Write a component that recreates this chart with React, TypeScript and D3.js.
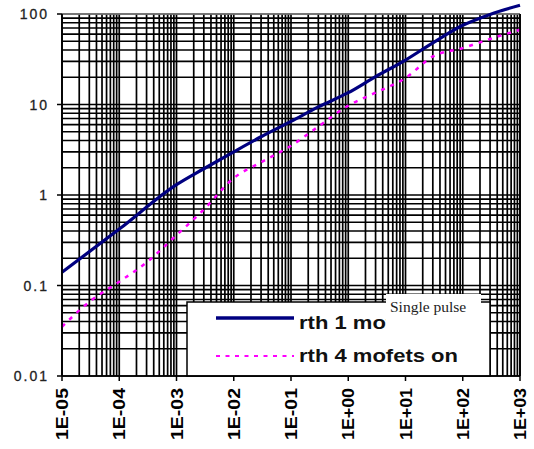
import React from "react";
import * as d3 from "d3";

const xTickLabels = ["1E-05", "1E-04", "1E-03", "1E-02", "1E-01", "1E+00", "1E+01", "1E+02", "1E+03"];
const xTickValues = [1e-5, 1e-4, 1e-3, 1e-2, 1e-1, 1, 10, 100, 1000];
const yTickLabels = ["0.01", "0.1", "1", "10", "100"];
const yTickValues = [0.01, 0.1, 1, 10, 100];

const timeOne = [1e-5, 1e-4, 1e-3, 3e-3, 1e-2, 3e-2, 1e-1, 3e-1, 1, 3, 10, 30, 100, 300, 1000];
const rthOne = [0.14, 0.42, 1.3, 1.95, 3.0, 4.4, 6.5, 9.4, 13.5, 20.3, 31, 48, 75, 99, 125];

const timeFour = [1e-5, 3e-5, 1e-4, 3e-4, 1e-3, 3e-3, 1e-2, 3e-2, 1e-1, 3e-1, 1, 3, 10, 30, 100, 300, 1000];
const rthFour = [0.035, 0.066, 0.11, 0.18, 0.36, 0.69, 1.54, 2.3, 3.5, 5.7, 9.7, 13.5, 19.6, 34, 42, 53, 67];

const seriesNames = ["rth 1 mofets on", "rth 4 mofets on"];
const annotation = "Single pulse";

export default function App() {
  const left = 62, right = 520, top = 14, bottom = 376;
  const x = d3.scaleLog().domain([1e-5, 1e3]).range([left, right]);
  const y = d3.scaleLog().domain([0.01, 100]).range([bottom, top]);

  const gridX: number[] = [];
  for (let e = -5; e < 3; e++) for (let m = 1; m <= 9; m++) gridX.push(m * Math.pow(10, e));
  gridX.push(1000);
  const gridY: number[] = [];
  for (let e = -2; e < 2; e++) for (let m = 1; m <= 9; m++) gridY.push(m * Math.pow(10, e));
  gridY.push(100);

  const line = d3
    .line<[number, number]>()
    .x((d) => x(d[0]))
    .y((d) => y(d[1]))
    .curve(d3.curveMonotoneX);

  const p1 = line(timeOne.map((t, i) => [t, rthOne[i]]) as [number, number][]) || "";
  const p4 = line(timeFour.map((t, i) => [t, rthFour[i]]) as [number, number][]) || "";

  const sans = "'Liberation Sans', Arial, sans-serif";

  return (
    <svg
      width={534}
      height={449}
      style={{ position: "absolute", left: 0, top: 0, background: "#fff" }}
    >
      <rect x={0} y={0} width={534} height={449} fill="#fff" />
      <g stroke="#000" strokeWidth={1.7}>
        {gridX.map((v, i) => (
          <line key={"gx" + i} x1={x(v)} x2={x(v)} y1={top} y2={bottom} />
        ))}
        {gridY.map((v, i) => (
          <line key={"gy" + i} x1={left} x2={right} y1={y(v)} y2={y(v)} />
        ))}
      </g>
      <line x1={left} x2={right} y1={top} y2={top} stroke="#888" strokeWidth={1.5} />
      <g stroke="#000" strokeWidth={1.5}>
        {yTickValues.map((v, i) => (
          <line key={"yt" + i} x1={left - 5} x2={left} y1={y(v)} y2={y(v)} />
        ))}
        {xTickValues.map((v, i) => (
          <line key={"xt" + i} x1={x(v)} x2={x(v)} y1={bottom} y2={bottom + 5} />
        ))}
      </g>
      {yTickValues.map((v, i) => (
        <text
          key={"yl" + i}
          x={47 + 2}
          y={y(v)}
          dy="0.36em"
          textAnchor="end"
          fontFamily={sans}
          fontSize={14}
          letterSpacing={2}
          fill="#222"
          stroke="#222"
          strokeWidth={0.3}
        >
          {yTickLabels[i]}
        </text>
      ))}
      {xTickValues.map((v, i) => (
        <text
          key={"xl" + i}
          transform={`translate(${x(v)},388) rotate(-90)`}
          dy="0.36em"
          textAnchor="end"
          fontFamily={sans}
          fontWeight="bold"
          fontSize={17}
          textLength={52}
          lengthAdjust="spacingAndGlyphs"
          fill="#000"
        >
          {xTickLabels[i]}
        </text>
      ))}
      <path d={p4} fill="none" stroke="#ff00ff" strokeWidth={2.5} strokeDasharray="4,6" />
      <path d={p1} fill="none" stroke="#000080" strokeWidth={3.2} />
      <rect x={187} y={302} width={303} height={74} fill="#fff" stroke="#000" strokeWidth={1.5} />
      <line x1={216} x2={294} y1={318} y2={318} stroke="#000080" strokeWidth={3.5} />
      <line x1={216} x2={294} y1={356} y2={356} stroke="#ff00ff" strokeWidth={2} strokeDasharray="4,5.5" />
      <text x={299} y={329} fontFamily={sans} fontWeight="bold" fontSize={18} textLength={159} lengthAdjust="spacingAndGlyphs" fill="#111">
        {seriesNames[0]}
      </text>
      <text x={299} y={362} fontFamily={sans} fontWeight="bold" fontSize={18} textLength={159} lengthAdjust="spacingAndGlyphs" fill="#111">
        {seriesNames[1]}
      </text>
      <rect x={386} y={294} width={95} height={37} fill="#fff" />
      <text x={390} y={312} fontFamily="'Liberation Serif', 'Times New Roman', serif" fontSize={15.5} fill="#222">
        {annotation}
      </text>
      <line x1={right} x2={right} y1={top} y2={bottom} stroke="#000" strokeWidth={1.7} />
      <line x1={left} x2={left} y1={top} y2={bottom} stroke="#000" strokeWidth={1.7} />
      <line x1={left} x2={right} y1={bottom} y2={bottom} stroke="#000" strokeWidth={1.7} />
    </svg>
  );
}
